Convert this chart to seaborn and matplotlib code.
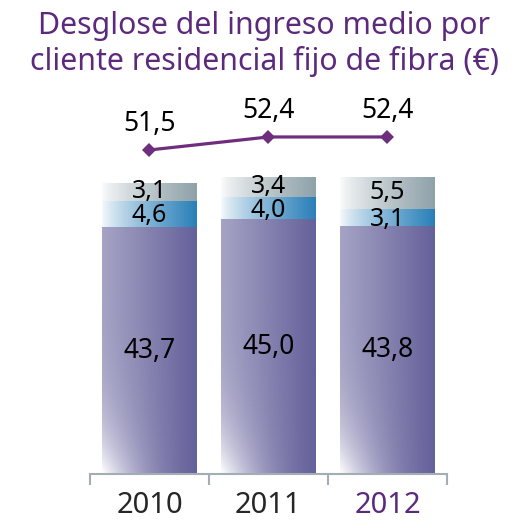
import numpy as np
import pandas as pd
import matplotlib
matplotlib.use('Agg')
import matplotlib.pyplot as plt
import seaborn as sns
from matplotlib.colors import to_rgb

# datos del gráfico
anios = ['2010', '2011', '2012']
base = [43.7, 45.0, 43.8]
medio = [4.6, 4.0, 3.1]
superior = [3.1, 3.4, 5.5]
total_linea = [51.5, 52.4, 52.4]

col_base = '#65619b'
col_medio = '#2a80b9'
col_sup = '#8fa2aa'
morado = '#5b2a7c'

sns.set_style('white')
plt.rcParams['font.family'] = ['Noto Sans', 'DejaVu Sans']

df = pd.DataFrame({'anio': anios, 'base': base, 'medio': medio, 'superior': superior})
df['c1'] = df['base']
df['c2'] = df['c1'] + df['medio']
df['c3'] = df['c2'] + df['superior']

fig = plt.figure(figsize=(5.18, 5.23), dpi=100)
ax = fig.add_axes([0.1737, 0.0937, 0.6892, 0.7151])

ancho = 0.79
capas = [('c3', 'c2', col_sup, 'h'), ('c2', 'c1', col_medio, 'h'), ('c1', None, col_base, 'd')]
segmentos = []
for col_top, col_bot, color, modo in capas:
    n0 = len(ax.patches)
    sns.barplot(data=df, x='anio', y=col_top, color=color, width=ancho, ax=ax, saturation=1)
    nuevas = ax.patches[n0:]
    for i, p in enumerate(nuevas):
        bot = df[col_bot].iloc[i] if col_bot else 0.0
        segmentos.append((p.get_x(), p.get_width(), bot, df[col_top].iloc[i], color, modo))
        p.set_visible(False)


def degradado(color, modo, nx=60, ny=200):
    u = np.linspace(0, 1, nx)[None, :]
    v = np.linspace(1, 0, ny)[:, None]
    if modo == 'h':
        f = np.clip(u, 0, 1) ** 0.8 * np.ones_like(v)
        f = 0.05 + 0.95 * f
    else:
        f = (0.58 + 0.42 * u) * (1 - (1 - u) ** 3 * (1 - v) ** 5)
    c = np.array(to_rgb(color))
    img = 1 - f[..., None] * (1 - c)
    return img


for x, w, y0, y1, color, modo in segmentos:
    ax.imshow(degradado(color, modo), extent=(x, x + w, y0, y1), aspect='auto',
              interpolation='bilinear', zorder=2)

ax.set_xlim(-0.5, 2.5)
ax.set_ylim(0, 66.2)

# etiquetas de los segmentos
for i in range(len(anios)):
    ax.text(i, base[i] / 2, f'{base[i]:.1f}'.replace('.', ','), ha='center', va='center',
            fontsize=19, color='black', zorder=5)
    ax.text(i, df['c1'][i] + medio[i] / 2 - 0.3, f'{medio[i]:.1f}'.replace('.', ','), ha='center',
            va='center', fontsize=18, color='black', zorder=5)
    ax.text(i, df['c2'][i] + superior[i] / 2 + 0.2, f'{superior[i]:.1f}'.replace('.', ','), ha='center',
            va='center', fontsize=18, color='black', zorder=5)

# ejes
sns.despine(ax=ax, left=True)
ax.spines['bottom'].set_color('#a3adb4')
ax.spines['bottom'].set_linewidth(1.5)
ax.set_yticks([])
ax.set_xticks([0, 1, 2])
ax.set_xticklabels(anios, fontsize=21)
ax.get_xticklabels()[2].set_color(morado)
ax.tick_params(axis='x', which='major', length=0, pad=12)
ax.set_xticks([-0.5, 0.5, 1.5, 2.5], minor=True)
ax.tick_params(axis='x', which='minor', bottom=True, length=8, width=1.5, color='#a3adb4',
               direction='out')
ax.set_xlabel('')
ax.set_ylabel('')

# línea del total
ax2 = ax.twinx()
lin = pd.DataFrame({'pos': [0, 1, 2], 'total': total_linea})
sns.lineplot(data=lin, x='pos', y='total', ax=ax2, color='#6e2d7d', linewidth=2.3,
             marker='D', markersize=7, markeredgewidth=0)
ax2.set_ylim(29.06, 54.96)
ax2.set_xlim(-0.5, 2.5)
ax2.axis('off')
for i, t in enumerate(total_linea):
    ax2.annotate(f'{t:.1f}'.replace('.', ','), (i, t), xytext=(0, 19), textcoords='offset points',
                 ha='center', va='center', fontsize=19, color='black')

fig.text(0.51, 0.916, 'Desglose del ingreso medio por\ncliente residencial fijo de fibra (€)',
         ha='center', va='center', fontsize=21.8, color=morado, linespacing=1.2)

fig.savefig('out.png', dpi=100)
